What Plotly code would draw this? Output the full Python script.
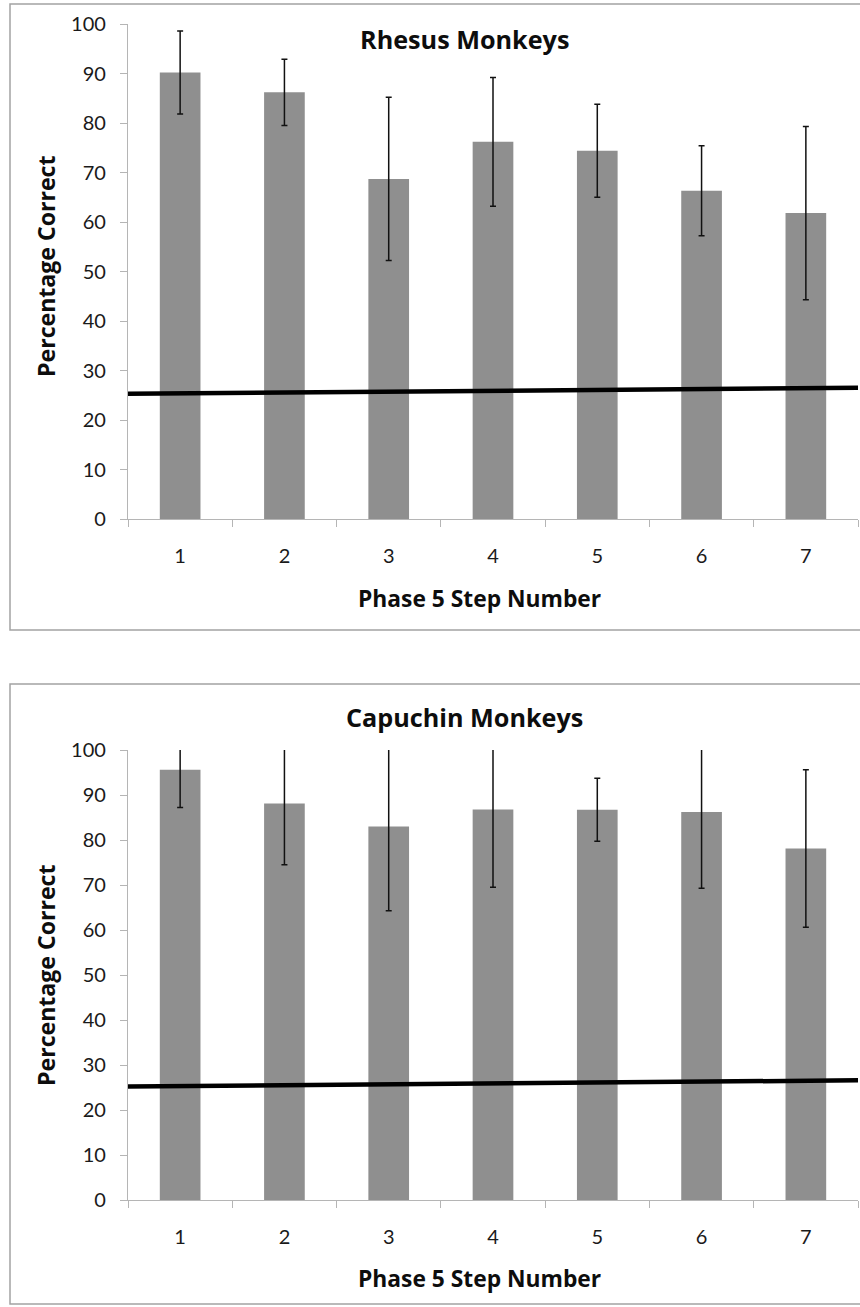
import plotly.graph_objects as go

# ---- data ----
steps = [1, 2, 3, 4, 5, 6, 7]
tick_labels = ["1", "2", "3", "4", "5", "6", "7"]
y_ticks = [0, 10, 20, 30, 40, 50, 60, 70, 80, 90, 100]

rhesus_mean = [90.2, 86.2, 68.7, 76.2, 74.4, 66.3, 61.8]
rhesus_err = [8.4, 6.7, 16.5, 13.0, 9.4, 9.1, 17.5]

capuchin_mean = [95.6, 88.1, 83.0, 86.8, 86.7, 86.2, 78.1]
capuchin_err = [8.4, 13.6, 18.7, 17.3, 7.0, 16.9, 17.5]

chance_x = [0.5, 7.5]
rhesus_chance = [25.3, 26.5]
capuchin_chance = [25.2, 26.6]

titles = ["Rhesus Monkeys", "Capuchin Monkeys"]
x_title = "Phase 5 Step Number"
y_title = "Percentage Correct"

# ---- geometry helpers ----
W, H = 860, 1307
def px(x):
    return x / W
def py(y):
    return 1 - y / H

BAR = "#8f8f8f"
AX = "#b5b5b5"
TICKFONT = "Lato"
TFONT = "Open Sans"

fig = go.Figure()

series = [
    (rhesus_mean, rhesus_err, rhesus_chance, "x", "y"),
    (capuchin_mean, capuchin_err, capuchin_chance, "x2", "y2"),
]
for mean, err, chance, xa, ya in series:
    fig.add_trace(go.Bar(
        x=steps, y=mean, width=0.39, marker=dict(color=BAR, line=dict(width=0)),
        error_y=dict(type="data", array=err, visible=True, color="#111111",
                     thickness=1.5, width=3),
        xaxis=xa, yaxis=ya, showlegend=False,
    ))
    fig.add_trace(go.Scatter(
        x=chance_x, y=chance, mode="lines", line=dict(color="black", width=4.5),
        xaxis=xa, yaxis=ya, showlegend=False, cliponaxis=False,
    ))

boundaries = [s - 0.5 for s in steps] + [steps[-1] + 0.5]

def xaxis_cfg(anchor):
    return dict(
        domain=[px(128), px(858)], range=[0.5, 7.5], anchor=anchor,
        automargin=False,
        tickmode="array", tickvals=steps, ticktext=tick_labels,
        ticks="", showline=True, linecolor=AX, linewidth=1.3,
        showgrid=False, zeroline=False, fixedrange=True,
        tickfont=dict(family=TICKFONT, size=20, color="#1a1a1a"),
        ticklabelstandoff=19,
        minor=dict(tickmode="array", tickvals=boundaries, ticks="outside",
                   ticklen=7, tickcolor=AX, tickwidth=1.3, showgrid=False),
    )

def yaxis_cfg(dom, anchor):
    return dict(
        domain=dom, range=[0, 100], anchor=anchor,
        automargin=False,
        tickmode="array", tickvals=y_ticks,
        ticks="outside", ticklen=7, tickcolor=AX, tickwidth=1.3,
        showline=True, linecolor=AX, linewidth=1.3,
        showgrid=False, zeroline=False, fixedrange=True,
        tickfont=dict(family=TICKFONT, size=20, color="#1a1a1a"),
        ticklabelstandoff=10,
    )

top_dom = [py(519), py(24)]
bot_dom = [py(1200), py(750)]

fig.update_layout(
    width=W, height=H, autosize=False,
    margin=dict(l=0, r=0, t=0, b=0, pad=0, autoexpand=False),
    paper_bgcolor="white", plot_bgcolor="white",
    showlegend=False,
    xaxis=xaxis_cfg("y"),
    yaxis=yaxis_cfg(top_dom, "x"),
    xaxis2=xaxis_cfg("y2"),
    yaxis2=yaxis_cfg(bot_dom, "x2"),
)

# borders of each chart area
fig.add_shape(type="rect", xref="paper", yref="paper",
              x0=px(10), x1=1.05, y0=py(630), y1=py(4),
              line=dict(color="#a3a3a3", width=1.5), layer="below")
fig.add_shape(type="rect", xref="paper", yref="paper",
              x0=px(10), x1=1.05, y0=py(1304), y1=py(684),
              line=dict(color="#a3a3a3", width=1.5), layer="below")

def bold(size):
    return dict(family=TFONT, size=size, color="#0d0d0d", weight="bold")

def note(text, x, y, size, angle=0):
    return dict(text=text, x=px(x), y=py(y), xref="paper", yref="paper",
                showarrow=False, font=bold(size), textangle=angle,
                xanchor="center", yanchor="middle")

ann = [
    note(titles[0], 464, 39, 25.2),
    note(titles[1], 464, 717, 25.2),
    note(x_title, 479, 598, 22.8),
    note(x_title, 479, 1278, 22.8),
    note(y_title, 46, 266, 23.1, -90),
    note(y_title, 46, 975, 23.1, -90),
]
fig.update_layout(annotations=ann)

fig.write_html(
    "out.html",
    config={"displayModeBar": False},
    post_script=(
        "document.documentElement.style.margin='0px';"
        "document.documentElement.style.overflow='hidden';"
        "document.body.style.margin='0px';"
        "document.body.style.padding='0px';"
        "document.body.style.overflow='hidden';"
        "document.body.style.height='1307px';"
        "var gd=document.getElementById('{plot_id}');"
        "gd.style.position='absolute';gd.style.top='0px';gd.style.left='0px';"
    ),
)
